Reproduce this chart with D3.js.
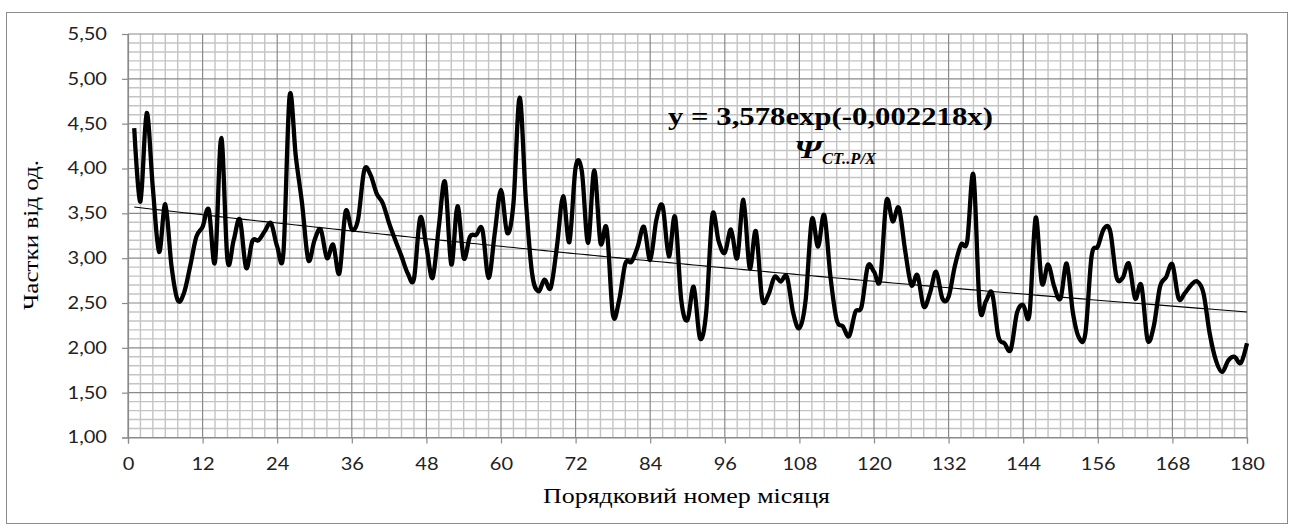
<!DOCTYPE html>
<html>
<head>
<meta charset="utf-8">
<script src="https://cdn.jsdelivr.net/npm/d3@7"></script>
<style>
  body { margin: 0; background: #fff; }
  svg { display: block; }
</style>
</head>
<body>
<script>
// monthly values, month 1..180
var values = [
  4.45, 3.63, 4.62, 3.78, 3.07, 3.60, 2.91, 2.53, 2.61, 2.91,
  3.24, 3.35, 3.54, 2.96, 4.34, 2.98, 3.20, 3.43, 2.89, 3.19,
  3.20, 3.30, 3.39, 3.13, 3.06, 4.81, 4.13, 3.61, 2.98, 3.20,
  3.32, 3.00, 3.15, 2.83, 3.52, 3.32, 3.43, 3.98, 3.93, 3.72,
  3.61, 3.39, 3.20, 3.02, 2.83, 2.77, 3.45, 3.13, 2.78, 3.35,
  3.85, 2.93, 3.58, 3.00, 3.24, 3.26, 3.32, 2.78, 3.28, 3.76,
  3.28, 3.61, 4.79, 3.65, 2.83, 2.63, 2.76, 2.67, 3.13, 3.69,
  3.18, 4.01, 3.97, 3.17, 3.98, 3.17, 3.33, 2.37, 2.53, 2.94,
  2.96, 3.13, 3.35, 2.98, 3.43, 3.58, 3.02, 3.46, 2.53, 2.31,
  2.68, 2.11, 2.39, 3.48, 3.19, 3.06, 3.32, 3.00, 3.65, 2.89,
  3.30, 2.55, 2.59, 2.79, 2.74, 2.79, 2.39, 2.22, 2.53, 3.43,
  3.13, 3.48, 2.79, 2.31, 2.24, 2.13, 2.40, 2.46, 2.91, 2.85,
  2.76, 3.64, 3.41, 3.56, 3.09, 2.70, 2.81, 2.46, 2.61, 2.85,
  2.55, 2.57, 2.91, 3.15, 3.19, 3.93, 2.46, 2.52, 2.61, 2.13,
  2.05, 1.98, 2.39, 2.48, 2.37, 3.45, 2.72, 2.93, 2.68, 2.55,
  2.94, 2.39, 2.11, 2.16, 3.02, 3.13, 3.33, 3.30, 2.79, 2.78,
  2.94, 2.55, 2.70, 2.09, 2.24, 2.68, 2.79, 2.93, 2.55, 2.61,
  2.70, 2.74, 2.61, 2.16, 1.86, 1.73, 1.86, 1.90, 1.83, 2.05
];
var xTicks = [0, 12, 24, 36, 48, 60, 72, 84, 96, 108, 120, 132, 144, 156, 168, 180];
var yTicks = [1.0, 1.5, 2.0, 2.5, 3.0, 3.5, 4.0, 4.5, 5.0, 5.5];
var trendA = 3.578, trendB = -0.002218;

var W = 1295, H = 531;
var margin = {top: 34, right: 48, bottom: 93.5, left: 128},
    width = W - margin.left - margin.right,
    height = H - margin.top - margin.bottom;

var fmt = function(d) { return d3.format(".2f")(d).replace(".", ","); };
var serif = "'Liberation Serif', 'Times New Roman', serif";

var x = d3.scaleLinear().domain([0, 180]).range([0, width]);
var y = d3.scaleLinear().domain([1, 5.5]).range([height, 0]);

var svg = d3.select("body").append("svg")
    .attr("width", W)
    .attr("height", H);

// chart frame
svg.append("rect")
    .attr("x", 6.5).attr("y", 12.5)
    .attr("width", 1281).attr("height", 511)
    .attr("fill", "#fff")
    .attr("stroke", "#8c8c8c")
    .attr("stroke-width", 1);

var g = svg.append("g")
    .attr("transform", "translate(" + margin.left + "," + margin.top + ")");

// minor grid
var minorX = d3.range(0, 181, 2).filter(function(d) { return d % 12 !== 0; });
var minorY = d3.range(10, 56, 1).map(function(d) { return d / 10; })
    .filter(function(d) { return Math.round(d * 10) % 5 !== 0; });

g.append("g").selectAll("line").data(minorX).enter().append("line")
    .attr("x1", function(d) { return x(d); }).attr("x2", function(d) { return x(d); })
    .attr("y1", 0).attr("y2", height)
    .attr("stroke", "#c4c4c4").attr("stroke-width", 1.4);
g.append("g").selectAll("line").data(minorY).enter().append("line")
    .attr("y1", function(d) { return y(d); }).attr("y2", function(d) { return y(d); })
    .attr("x1", 0).attr("x2", width)
    .attr("stroke", "#c4c4c4").attr("stroke-width", 1.4);

// major grid
g.append("g").selectAll("line").data(xTicks).enter().append("line")
    .attr("x1", function(d) { return x(d); }).attr("x2", function(d) { return x(d); })
    .attr("y1", 0).attr("y2", height)
    .attr("stroke", "#8a8a8a").attr("stroke-width", 1.2);
g.append("g").selectAll("line").data(yTicks).enter().append("line")
    .attr("y1", function(d) { return y(d); }).attr("y2", function(d) { return y(d); })
    .attr("x1", 0).attr("x2", width)
    .attr("stroke", "#8a8a8a").attr("stroke-width", 1.2);

// axes
var xAxis = g.append("g")
    .attr("transform", "translate(0," + height + ")")
    .call(d3.axisBottom(x).tickValues(xTicks).tickSize(6).tickPadding(14));
var yAxis = g.append("g")
    .call(d3.axisLeft(y).tickValues(yTicks).tickFormat(fmt).tickSize(6).tickPadding(15));

[xAxis, yAxis].forEach(function(a) {
  a.select(".domain").attr("stroke", "#8a8a8a").attr("stroke-width", 1.2);
  a.selectAll(".tick line").attr("stroke", "#8a8a8a").attr("stroke-width", 1.2);
  a.selectAll("text")
      .attr("fill", "#222")
      .style("font-family", "Lato, 'Open Sans', sans-serif")
      .style("font-size", "17px")
      .each(function() {
        // the reference glyphs are a little wider than Lato
        var len = this.getComputedTextLength();
        d3.select(this).attr("textLength", len * 1.18).attr("lengthAdjust", "spacingAndGlyphs");
      });
});

// data line
var data = values.map(function(v, i) { return {m: i + 1, v: v}; });
g.append("path")
    .datum(data)
    .attr("fill", "none")
    .attr("stroke", "#000")
    .attr("stroke-width", 4.3)
    .attr("stroke-linejoin", "round")
    .attr("d", d3.line()
        .curve(d3.curveCardinal.tension(0))
        .x(function(d) { return x(d.m); })
        .y(function(d) { return y(d.v); }));

// exponential trend
var trend = d3.range(1, 181).map(function(m) { return {m: m, v: trendA * Math.exp(trendB * m)}; });
g.append("path")
    .datum(trend)
    .attr("fill", "none")
    .attr("stroke", "#000")
    .attr("stroke-width", 1.1)
    .attr("d", d3.line()
        .x(function(d) { return x(d.m); })
        .y(function(d) { return y(d.v); }));

// equation label
svg.append("text")
    .attr("x", 668).attr("y", 125)
    .style("font-family", serif)
    .style("font-weight", "bold")
    .style("font-size", "25px")
    .attr("fill", "#000")
    .attr("textLength", 325)
    .attr("lengthAdjust", "spacingAndGlyphs")
    .text("y = 3,578exp(-0,002218x)");

svg.append("text")
    .attr("x", 794).attr("y", 158)
    .style("font-family", serif)
    .style("font-weight", "bold")
    .style("font-style", "italic")
    .style("font-size", "25px")
    .attr("fill", "#000")
    .attr("textLength", 28)
    .attr("lengthAdjust", "spacingAndGlyphs")
    .text("Ψ");
svg.append("text")
    .attr("x", 822).attr("y", 164)
    .style("font-family", serif)
    .style("font-weight", "bold")
    .style("font-style", "italic")
    .style("font-size", "17px")
    .attr("fill", "#000")
    .attr("textLength", 54)
    .attr("lengthAdjust", "spacingAndGlyphs")
    .text("СТ..Р/Х");

// axis titles
svg.append("text")
    .attr("x", 543).attr("y", 503)
    .style("font-family", serif)
    .style("font-size", "21px")
    .attr("fill", "#000")
    .attr("textLength", 287)
    .attr("lengthAdjust", "spacingAndGlyphs")
    .text("Порядковий номер місяця");

svg.append("text")
    .attr("transform", "translate(38,310) rotate(-90)")
    .style("font-family", serif)
    .style("font-size", "20px")
    .attr("fill", "#000")
    .attr("textLength", 150)
    .attr("lengthAdjust", "spacingAndGlyphs")
    .text("Частки від од.");
</script>
</body>
</html>
